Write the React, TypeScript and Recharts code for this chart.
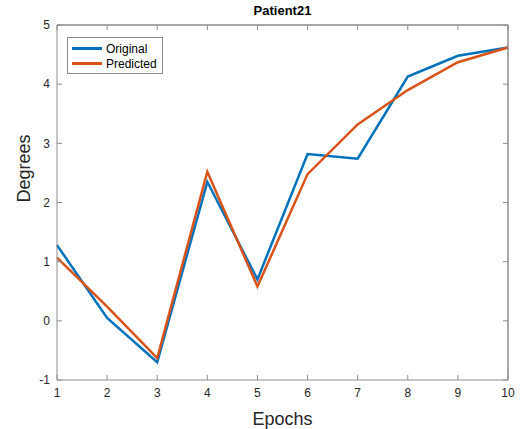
import { Legend, Line, LineChart, ReferenceLine, XAxis, YAxis } from "recharts";

const epochs = [1, 2, 3, 4, 5, 6, 7, 8, 9, 10];
const original = [1.28, 0.05, -0.7, 2.35, 0.7, 2.82, 2.74, 4.13, 4.48, 4.62];
const predicted = [1.07, 0.24, -0.63, 2.52, 0.58, 2.48, 3.32, 3.9, 4.37, 4.62];
const yTicks = [-1, 0, 1, 2, 3, 4, 5];

const data = epochs.map((e, i) => ({ epoch: e, original: original[i], predicted: predicted[i] }));

const FONT = "'Liberation Sans', Arial, Helvetica, sans-serif";
const AXIS = "#8c8c8c";
const TEXT = "#262626";
const blank = () => "";

function LegendBox() {
  const rows = [
    { name: "Original", color: "#0072BD" },
    { name: "Predicted", color: "#D95319" },
  ];
  return (
    <div
      style={{
        width: 96,
        height: 37,
        border: "1px solid #8c8c8c",
        background: "#fff",
        fontFamily: FONT,
        fontSize: 12,
        color: "#000",
        boxSizing: "border-box",
        paddingTop: 3,
      }}
    >
      {rows.map((r) => (
        <div key={r.name} style={{ display: "flex", alignItems: "center", height: 15 }}>
          <div style={{ width: 30, height: 3, background: r.color, marginLeft: 4, marginRight: 4 }} />
          <span>{r.name}</span>
        </div>
      ))}
    </div>
  );
}

export default function App() {
  return (
    <div style={{ position: "absolute", left: 0, top: 0, width: 521, height: 429, background: "#fff" }}>
      <div
        style={{
          position: "absolute",
          left: 0,
          width: 565,
          top: 3,
          textAlign: "center",
          fontFamily: FONT,
          fontWeight: "bold",
          fontSize: 13,
          color: "#000",
        }}
      >
        Patient21
      </div>
      <LineChart width={521} height={429} data={data} margin={{ top: 24, right: 12, bottom: 0, left: 0 }}>
        <XAxis
          xAxisId="b"
          dataKey="epoch"
          type="number"
          domain={[1, 10]}
          ticks={epochs}
          height={49}
          stroke={AXIS}
          tickSize={-5}
          tickMargin={13}
          tick={{ fill: TEXT, fontSize: 12, fontFamily: FONT }}
          label={{ value: "Epochs", position: "insideBottom", offset: 4, fill: TEXT, fontSize: 18, fontFamily: FONT }}
        />
        <XAxis
          xAxisId="t"
          orientation="top"
          dataKey="epoch"
          type="number"
          domain={[1, 10]}
          ticks={epochs}
          height={1}
          stroke={AXIS}
          tickSize={-5}
          tickFormatter={blank}
        />
        <YAxis
          yAxisId="l"
          type="number"
          domain={[-1, 5]}
          ticks={yTicks}
          width={57}
          stroke={AXIS}
          tickSize={-5}
          tickMargin={12}
          tick={{ fill: TEXT, fontSize: 12, fontFamily: FONT }}
          label={{ value: "Degrees", angle: -90, position: "insideLeft", offset: 24, fill: TEXT, fontSize: 18, fontFamily: FONT }}
        />
        <YAxis
          yAxisId="r"
          orientation="right"
          type="number"
          domain={[-1, 5]}
          ticks={yTicks}
          width={1}
          stroke={AXIS}
          tickSize={-5}
          tickFormatter={blank}
        />
        <ReferenceLine xAxisId="b" yAxisId="l" y={5} stroke={AXIS} ifOverflow="visible" />
        <ReferenceLine xAxisId="b" yAxisId="l" x={10} stroke={AXIS} ifOverflow="visible" />
        <Legend
          content={<LegendBox />}
          layout="horizontal"
          verticalAlign="middle"
          align="center"
          wrapperStyle={{ left: 67, top: 37, width: 96 }}
        />
        <Line
          xAxisId="b"
          yAxisId="l"
          dataKey="original"
          stroke="#0072BD"
          strokeWidth={2.5}
          dot={false}
          isAnimationActive={false}
        />
        <Line
          xAxisId="t"
          yAxisId="r"
          dataKey="predicted"
          stroke="#D95319"
          strokeWidth={2.5}
          dot={false}
          isAnimationActive={false}
        />
      </LineChart>
    </div>
  );
}
